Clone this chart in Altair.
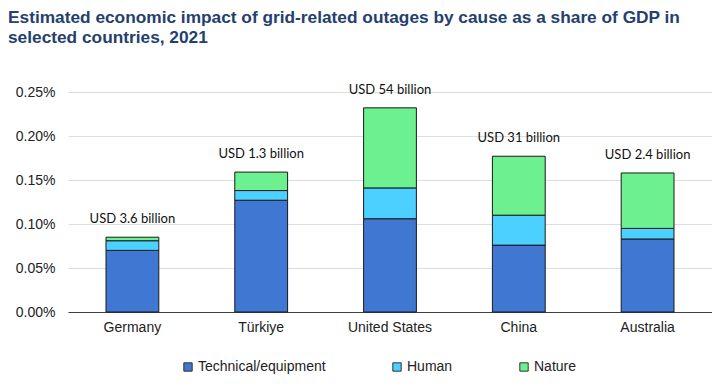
import altair as alt
import pandas as pd

countries = ["Germany", "Türkiye", "United States", "China", "Australia"]
technical = [0.070, 0.127, 0.106, 0.076, 0.083]  # % of GDP
human = [0.011, 0.011, 0.035, 0.034, 0.012]
nature = [0.004, 0.021, 0.091, 0.067, 0.063]
cost_labels = ["USD 3.6 billion", "USD 1.3 billion", "USD 54 billion", "USD 31 billion", "USD 2.4 billion"]
causes = ["Technical/equipment", "Human", "Nature"]
colors = ["#3F77D2", "#4CD0FF", "#6CF090"]

rows = []
for i, c in enumerate(countries):
    for k, (cause, vals) in enumerate(zip(causes, [technical, human, nature])):
        rows.append({"country": c, "cause": cause, "order": k, "value": vals[i] / 100})
df = pd.DataFrame(rows)

tot = pd.DataFrame({
    "country": countries,
    "total": [(t + h + n) / 100 for t, h, n in zip(technical, human, nature)],
    "label": cost_labels,
})

x = alt.X("country:N", sort=countries, title=None,
          scale=alt.Scale(paddingInner=0.59, paddingOuter=0.295),
          axis=alt.Axis(labelAngle=0, labelFontSize=14, labelColor="#222222",
                        labelFont="Liberation Sans", ticks=False, domainColor="#404040",
                        domainWidth=1, labelPadding=8, grid=False))

bars = alt.Chart(df).mark_bar(stroke="#1a1a1a", strokeWidth=1).encode(
    x=x,
    y=alt.Y("sum(value):Q", title=None,
            scale=alt.Scale(domain=[0, 0.0025], nice=False),
            axis=alt.Axis(format=".2%", values=[0, 0.0005, 0.001, 0.0015, 0.002, 0.0025],
                          labelFontSize=14, labelColor="#222222", labelFont="Liberation Sans",
                          ticks=False, domain=False, gridColor="#dedede", gridWidth=1,
                          labelPadding=13)),
    color=alt.Color("cause:N", sort=causes,
                    scale=alt.Scale(domain=causes, range=colors),
                    legend=alt.Legend(title=None, orient="none", direction="horizontal",
                                      legendX=113, legendY=268,
                                      symbolType="square", symbolSize=70,
                                      symbolStrokeColor="#333333", symbolStrokeWidth=1,
                                      labelFontSize=14, labelFont="Liberation Sans",
                                      labelColor="#222222", columnPadding=64,
                                      labelOffset=3)),
    order=alt.Order("order:Q", sort="ascending"),
)

text = alt.Chart(tot).mark_text(fontSize=13, font="Lato", color="#111111",
                                baseline="middle", dy=-18).encode(
    x=alt.X("country:N", sort=countries),
    y=alt.Y("total:Q"),
    text="label:N",
)

chart = alt.layer(bars, text).properties(
    width=644,
    height=220,
    title=alt.TitleParams(
        ["Estimated economic impact of grid-related outages by cause as a share of GDP in",
         "selected countries, 2021"],
        anchor="start", frame="group", dx=-60, offset=38, fontSize=17.3,
        font="Liberation Sans", fontWeight="bold", color="#24406E", lineHeight=20),
    autosize=alt.AutoSizeParams(type="none"),
    padding={"left": 60, "top": 84, "right": 0, "bottom": 72},
).configure_view(stroke=None)

chart.save("out.html", embed_options={"renderer": "svg", "actions": False})
